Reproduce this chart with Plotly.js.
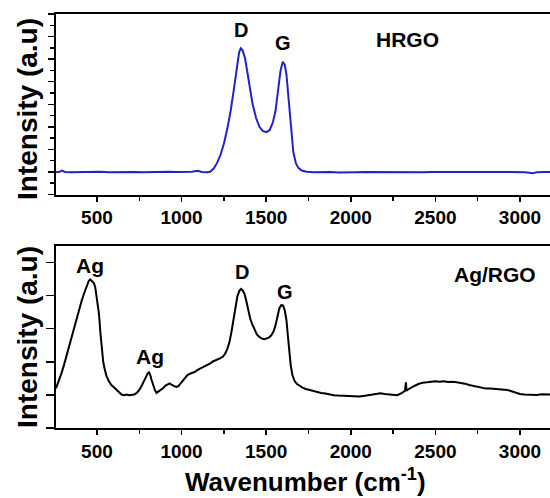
<!DOCTYPE html>
<html>
<head>
<meta charset="utf-8">
<script src="https://cdn.plot.ly/plotly-3.0.1.min.js"></script>
<style>
html,body{margin:0;padding:0;overflow:hidden;background:#fff;width:550px;height:498px;}
#chart{width:553px;height:498px;}
</style>
</head>
<body>
<div id="chart"></div>
<script>
// HRGO spectrum (top panel)
const hrgoWavenumber = [258,280,294,310,340,380,420,470,520,570,620,670,720,770,820,870,920,970,1020,1060,1097,1120,1150,1168,1190,1210,1230,1250,1270,1290,1310,1325,1340,1350,1360,1375,1390,1405,1420,1440,1460,1480,1500,1520,1540,1555,1570,1585,1598,1610,1620,1630,1640,1650,1660,1675,1690,1710,1740,1780,1830,1880,1930,1980,2030,2080,2130,2180,2230,2280,2330,2380,2430,2480,2530,2580,2630,2680,2730,2780,2830,2880,2930,2980,3030,3077,3100,3140,3195];
const hrgoIntensity = [990,1010,1060,1000,990,1000,990,995,1005,990,1000,995,1000,990,1000,995,1005,995,1000,1010,1050,1000,990,1010,1150,1400,1750,2250,2900,3700,4700,5600,6300,6480,6400,6050,5400,4700,4000,3400,3000,2820,2760,2850,3200,3700,4600,5500,5880,5750,5300,4500,3500,2600,1900,1400,1180,1060,1010,990,1000,995,980,1000,990,1000,995,1000,990,1000,1005,995,990,1000,1000,995,990,1000,985,995,1000,990,995,1000,990,940,990,1000,990];

// Ag/RGO spectrum (bottom panel)
const agrgoWavenumber = [258,275,290,305,320,335,350,365,380,395,410,425,440,452,460,468,475,482,490,498,505,512,520,528,537,547,557,570,585,600,615,630,645,660,675,690,705,720,735,750,765,778,790,800,808,815,823,832,842,852,862,875,890,905,918,930,942,955,968,980,992,1005,1020,1035,1050,1065,1080,1095,1110,1125,1140,1155,1170,1185,1200,1215,1230,1245,1258,1270,1282,1294,1306,1318,1330,1342,1352,1362,1372,1382,1394,1406,1418,1430,1445,1460,1475,1490,1505,1518,1530,1542,1555,1566,1578,1590,1600,1610,1620,1628,1636,1645,1655,1668,1682,1698,1715,1735,1755,1775,1800,1825,1850,1875,1900,1925,1950,1975,2000,2025,2050,2075,2100,2125,2150,2175,2200,2225,2250,2275,2300,2320,2326,2329,2334,2350,2375,2400,2425,2450,2475,2500,2525,2550,2575,2600,2625,2650,2675,2700,2725,2750,2775,2800,2825,2850,2875,2900,2925,2950,2975,3000,3025,3050,3075,3100,3125,3150,3175,3195];
const agrgoIntensity = [1200,1420,1650,1900,2180,2450,2760,3050,3330,3600,3850,4080,4300,4450,4490,4440,4420,4380,4250,4000,3800,3450,2900,2400,2000,1750,1560,1420,1300,1230,1150,1080,1010,990,1010,990,1000,1010,1060,1150,1280,1420,1560,1650,1680,1600,1450,1300,1150,1060,1090,1150,1200,1280,1330,1350,1300,1260,1240,1260,1330,1420,1520,1600,1640,1670,1700,1760,1800,1840,1870,1900,1950,2010,2040,2090,2110,2160,2250,2380,2580,2880,3250,3650,3980,4150,4200,4150,4050,3850,3550,3300,3130,2980,2830,2750,2700,2680,2700,2740,2800,2900,3100,3400,3620,3720,3700,3550,3250,2800,2300,1900,1600,1420,1330,1270,1220,1180,1150,1130,1080,1060,1040,1010,990,980,970,960,950,940,950,970,990,1010,1030,1050,1030,1010,990,990,1050,1120,1380,1120,1150,1200,1270,1330,1370,1380,1400,1410,1400,1410,1390,1400,1380,1370,1340,1300,1270,1240,1210,1190,1190,1180,1190,1180,1150,1110,1060,1030,1010,1000,1010,1000,1020,1010,1020,1010];

const xTickValues = [500,1000,1500,2000,2500,3000];
const xTickLabels = ['500','1000','1500','2000','2500','3000'];

const W = 553, H = 498, L = 56;
const px2x = p => (p - L) / (W - L);
const px2y = p => 1 - p / H;

const tickFont = {family: 'Liberation Sans, Arial, sans-serif', size: 19, color: '#000', weight: 'bold'};
const labFont = (s) => ({family: 'Liberation Sans, Arial, sans-serif', size: s, color: '#000', weight: 'bold'});

const xRange = [258, 3195];
function xAxis(anchor) {
  return {
    anchor: anchor, range: xRange, showgrid: false, zeroline: false,
    showline: true, mirror: true, linecolor: '#000', linewidth: 2,
    ticks: 'outside', ticklen: 5, tickwidth: 1.5, tickcolor: '#000',
    tickvals: xTickValues, ticktext: xTickLabels, tickfont: tickFont,
    minor: {tickvals: [750,1250,1750,2250,2750], ticks: 'outside', ticklen: 4, tickwidth: 1.5, tickcolor: '#000'}
  };
}

const data = [
  {x: hrgoWavenumber, y: hrgoIntensity, xaxis: 'x', yaxis: 'y', type: 'scatter', mode: 'lines',
   line: {color: '#2222c8', width: 2}, hoverinfo: 'skip'},
  {x: agrgoWavenumber, y: agrgoIntensity, xaxis: 'x2', yaxis: 'y2', type: 'scatter', mode: 'lines',
   line: {color: '#000', width: 2}, hoverinfo: 'skip'}
];

const layout = {
  width: W, height: H,
  margin: {l: L, r: 0, t: 0, b: 0},
  paper_bgcolor: '#fff', plot_bgcolor: '#fff',
  showlegend: false,
  xaxis: xAxis('y'),
  xaxis2: xAxis('y2'),
  yaxis: {
    domain: [px2y(194.5), px2y(14)], range: [0, 8000], anchor: 'x',
    showgrid: false, zeroline: false, showline: true, mirror: true, linecolor: '#000', linewidth: 2,
    ticks: 'outside', ticklen: 6, tickwidth: 1.5, tickcolor: '#000', dtick: 1000, showticklabels: false,
    minor: {dtick: 500, ticks: 'outside', ticklen: 4, tickwidth: 1.5, tickcolor: '#000'}
  },
  yaxis2: {
    domain: [px2y(428), px2y(246)], range: [0, 5500], anchor: 'x2',
    showgrid: false, zeroline: false, showline: true, mirror: true, linecolor: '#000', linewidth: 2,
    ticks: 'outside', ticklen: 8, tickwidth: 1.5, tickcolor: '#000', dtick: 1000, showticklabels: false
  },
  annotations: [
    {xref: 'x', yref: 'y', x: 1351, y: 7300, text: 'D', showarrow: false, font: labFont(20)},
    {xref: 'x', yref: 'y', x: 1600, y: 6715, text: 'G', showarrow: false, font: labFont(20)},
    {xref: 'x', yref: 'y', x: 2338, y: 6850, text: 'HRGO', showarrow: false, font: labFont(21)},
    {xref: 'x2', yref: 'y2', x: 459, y: 4910, text: 'Ag', showarrow: false, font: labFont(21)},
    {xref: 'x2', yref: 'y2', x: 813, y: 2150, text: 'Ag', showarrow: false, font: labFont(21)},
    {xref: 'x2', yref: 'y2', x: 1357, y: 4700, text: 'D', showarrow: false, font: labFont(20)},
    {xref: 'x2', yref: 'y2', x: 1611, y: 4120, text: 'G', showarrow: false, font: labFont(20)},
    {xref: 'x2', yref: 'y2', x: 2852, y: 4640, text: 'Ag/RGO', showarrow: false, font: labFont(21)},
    {xref: 'paper', yref: 'paper', x: px2x(27), y: px2y(109), text: 'Intensity (a.u)', textangle: -90,
     showarrow: false, font: labFont(28), xanchor: 'center', yanchor: 'middle'},
    {xref: 'paper', yref: 'paper', x: px2x(27), y: px2y(337), text: 'Intensity (a.u)', textangle: -90,
     showarrow: false, font: labFont(28), xanchor: 'center', yanchor: 'middle'},
    {xref: 'paper', yref: 'paper', x: px2x(305), y: px2y(480), text: 'Wavenumber (cm<sup>-1</sup>)',
     showarrow: false, font: labFont(26), xanchor: 'center', yanchor: 'middle'}
  ]
};

Plotly.newPlot('chart', data, layout, {staticPlot: true, displayModeBar: false});
</script>
</body>
</html>
